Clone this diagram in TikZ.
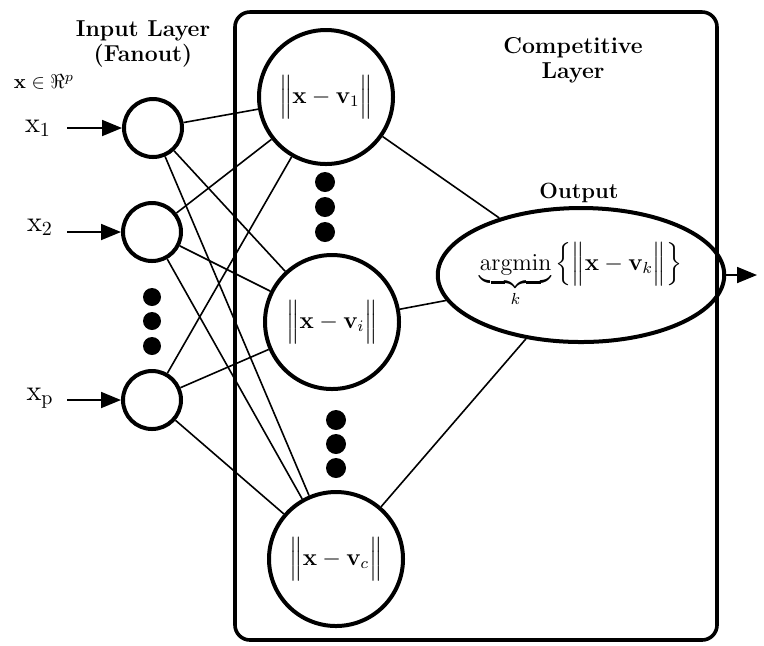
\documentclass[tikz,border=0pt]{standalone}
\usepackage{tikz}
\usetikzlibrary{arrows.meta,positioning,shapes.geometric}
\usepackage{amsmath}
\usepackage{amssymb}
\tikzset{
  inunit/.style={draw, circle, line width=2pt, minimum size=29pt, inner sep=0pt},
  compunit/.style={draw, circle, line width=2pt, minimum size=67pt,
    inner sep=0pt, font=\large},
  outunit/.style={draw, ellipse, line width=2pt, minimum width=126pt,
    minimum height=67pt, inner sep=0pt, font=\large},
  layerbox/.style={draw, line width=1.8pt, rounded corners=7.5pt},
  wire/.style={line width=0.8pt},
  feedarrow/.style={line width=0.9pt, -{Triangle[length=10pt,width=8pt]}},
  dotmark/.style={fill, circle, inner sep=0pt, minimum size=#1},
  dotmark/.default=9pt,
  layertitle/.style={font=\fontsize{11.5}{12.5}\selectfont\bfseries, align=center},
  inlabel/.style={font=\Large},
}

\begin{document}
\begin{tikzpicture}[x=0.5pt, y=-0.5pt]
\useasboundingbox (0,0) rectangle (764,645);

%% Competitive layer frame
\draw[layerbox] (235,12) rectangle (717,640);
\node[layertitle] (t_in)   at (143,44) {Input Layer\\(Fanout)};
\node[layertitle] (t_comp) at (573,60) {Competitive\\Layer};

%% Input layer
\node[inunit] (x1) at (153,128) {};
\node[inunit] (x2) at (152,232) {};
\node[inunit] (xp) at (152,400) {};
\foreach \yy in {297,321,346}
  \node[dotmark] at (152,\yy) {};

\node[font=\normalsize] (space) at (44,82) {$\mathbf{x}\in\Re^{p}$};
\coordinate (in1) at (67,128);
\coordinate (in2) at (67,232);
\coordinate (inp) at (67,400);
\node[inlabel] (l1) at (38,128) {$\mathrm{x}_{1}$};
\node[inlabel] (l2) at (40,227) {$\mathrm{x}_{2}$};
\node[inlabel] (lp) at (40,398) {$\mathrm{x}_{\mathrm{p}}$};
\draw[feedarrow] (in1) -- (x1);
\draw[feedarrow] (in2) -- (x2);
\draw[feedarrow] (inp) -- (xp);

%% Competitive units
\node[compunit] (v1) at (326,97)  {$\Big\|\mathbf{x}-\mathbf{v}_{1}\Big\|$};
\node[compunit] (vi) at (332,322) {$\Big\|\mathbf{x}-\mathbf{v}_{i}\Big\|$};
\node[compunit] (vc) at (336,559) {$\Big\|\mathbf{x}-\mathbf{v}_{c}\Big\|$};
\foreach \yy in {182,207,232}
  \node[dotmark=10pt] at (325,\yy) {};
\foreach \yy in {420,444,468}
  \node[dotmark=10pt] at (336,\yy) {};

%% Output unit
\node[outunit] (out) at (581,275)
  {$\underbrace{\mathrm{argmin}}_{k}\Big\{\Big\|\mathbf{x}-\mathbf{v}_{k}\Big\|\Big\}$};
\node[font=\fontsize{11}{13}\selectfont\bfseries] (t_out) at (579,193) {Output};
\coordinate (yout) at (757,275);
\draw[feedarrow] (out.east) -- (yout);

%% Connections
\foreach \a in {x1,x2,xp}
  \foreach \b in {v1,vi,vc}
    \draw[wire] (\a) -- (\b);
\foreach \b in {v1,vi,vc}
  \draw[wire] (\b) -- (out);
\end{tikzpicture}
\end{document}
